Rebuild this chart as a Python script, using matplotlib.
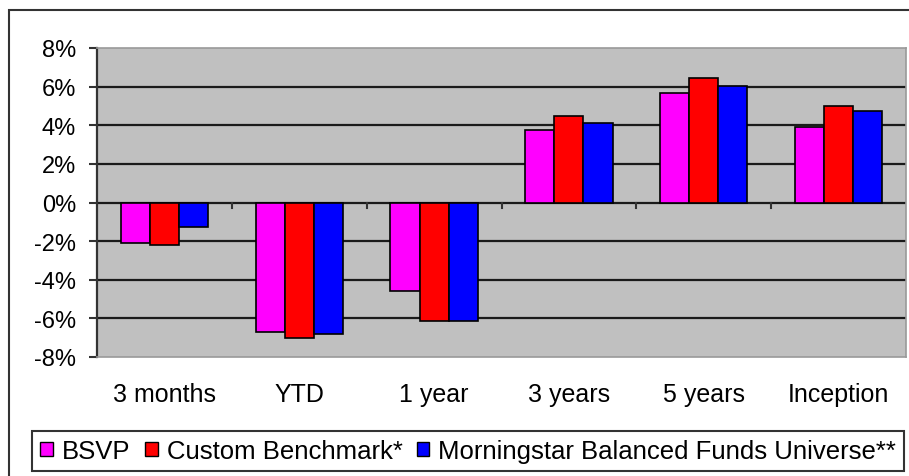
import matplotlib
matplotlib.use("Agg")
import matplotlib.pyplot as plt
import numpy as np
from matplotlib.patches import Patch, Rectangle
from matplotlib.ticker import FuncFormatter

categories = ["3 months", "YTD", "1 year", "3 years", "5 years", "Inception"]
series_names = ["BSVP", "Custom Benchmark*", "Morningstar Balanced Funds Universe**"]
bsvp = [-2.1, -6.7, -4.6, 3.75, 5.68, 3.9]
custom = [-2.2, -7.0, -6.15, 4.48, 6.47, 5.0]
morningstar = [-1.25, -6.8, -6.15, 4.1, 6.04, 4.74]
colors = ["#FF00FF", "#FF0000", "#0000FF"]
yticks = [-8, -6, -4, -2, 0, 2, 4, 6, 8]

plt.rcParams['font.family'] = ['Liberation Sans', 'DejaVu Sans']
FSX = 18
FSY = 17
FSL = 18.5

W, H = 909, 477
fig = plt.figure(figsize=(W / 100, H / 100), dpi=100)
fig.patch.set_facecolor("white")

# outer chart border (left and top visible)
fig.add_artist(Rectangle((9 / W, -0.1), 1.2, 1 - 11 / H + 0.1, transform=fig.transFigure,
                         fill=False, edgecolor="#333333", linewidth=1.5))

x0, x1, yb, yt = 97, 906, 358, 49
ax = fig.add_axes([x0 / W, 1 - yb / H, (x1 - x0) / W, (yb - yt) / H])
ax.set_facecolor("#C0C0C0")

n = len(categories)
x = np.arange(n)
bw = 0.216
for i, (vals, c) in enumerate(zip([bsvp, custom, morningstar], colors)):
    ax.bar(x + (i - 1) * bw, vals, bw, color=c, edgecolor="black", linewidth=1.2, zorder=3)

ax.set_xlim(-0.5, n - 0.5)
ax.set_ylim(-8, 8)
ax.set_yticks(yticks)
ax.yaxis.set_major_formatter(FuncFormatter(lambda v, p: f"{int(v)}%"))
for v in yticks[1:-1]:
    ax.axhline(v, color="#1a1a1a", linewidth=1.6, zorder=2)

ax.set_xticks(x)
ax.set_xticklabels(categories)
ax.tick_params(axis="x", length=0, pad=18, labelsize=FSX)
ax.tick_params(axis="y", length=6, width=1.5, color="#333333", direction="out", pad=9, labelsize=FSY)

# category boundary ticks on zero line
for b in np.arange(0.5, n - 0.5, 1):
    ax.plot([b, b], [0, -0.3], color="#333333", linewidth=1.5, zorder=4)

for s in ["top", "right", "bottom"]:
    ax.spines[s].set_color("#999999")
    ax.spines[s].set_linewidth(1.2)
ax.spines["left"].set_color("#333333")
ax.spines["left"].set_linewidth(1.6)

handles = [Patch(facecolor=c, edgecolor="black", linewidth=1.0) for c in colors]
leg = fig.legend(handles, series_names, loc="upper left",
                 bbox_to_anchor=(32 / W, 1 - 432 / H),
                 ncol=3, fontsize=FSL, frameon=True, fancybox=False,
                 handlelength=0.5, handleheight=0.5, handletextpad=0.35, columnspacing=0.55,
                 borderpad=0.32, borderaxespad=0)
leg.get_frame().set_edgecolor("black")
leg.get_frame().set_linewidth(1.5)

fig.savefig("out.png", dpi=100)
